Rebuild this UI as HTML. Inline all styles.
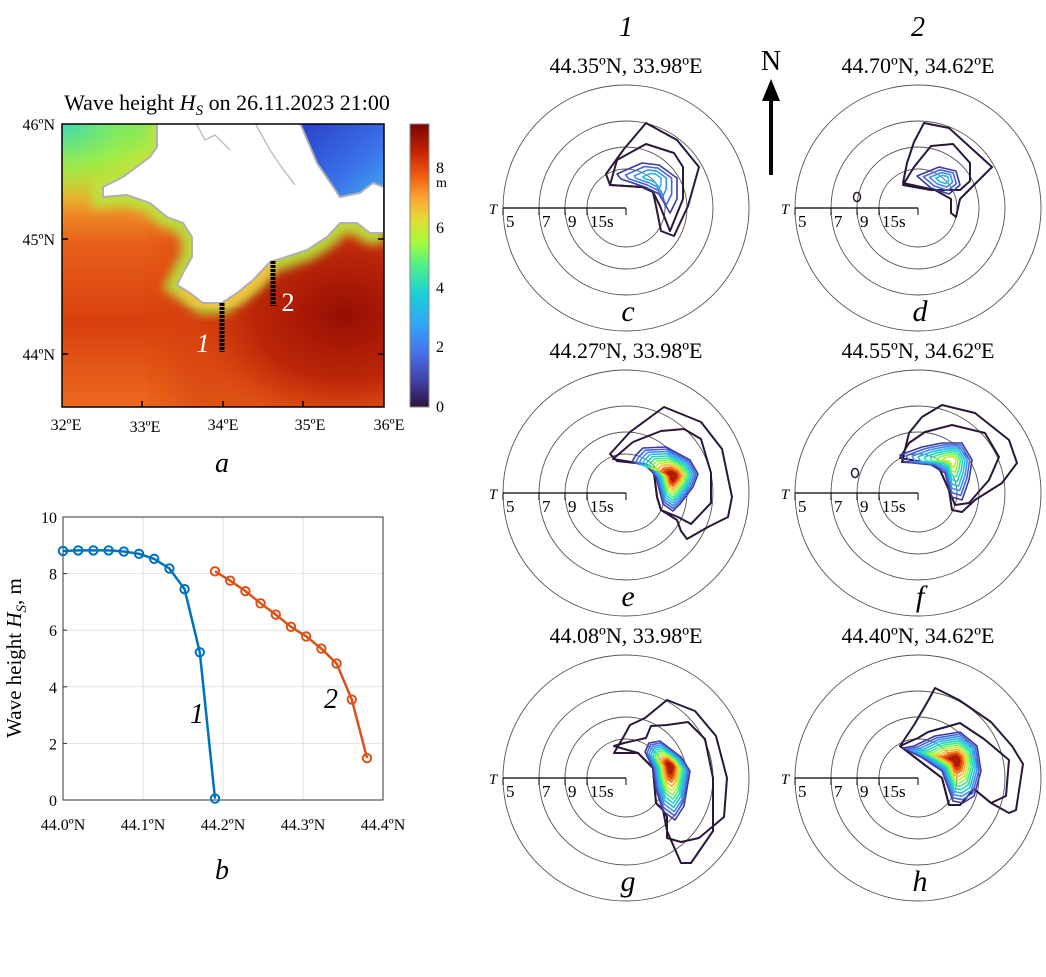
<!DOCTYPE html>
<html><head><meta charset="utf-8"><style>
html,body{margin:0;padding:0;background:#fff;}
svg{display:block;font-family:"Liberation Serif",serif;}
</style></head><body>
<svg id="fig" width="1046" height="977" viewBox="0 0 1046 977" xmlns="http://www.w3.org/2000/svg">
<defs>
  <linearGradient id="seaBase" x1="0" y1="0" x2="0" y2="1">
    <stop offset="0" stop-color="#5fe080"/>
    <stop offset="0.12" stop-color="#b8ea38"/>
    <stop offset="0.25" stop-color="#f2a52c"/>
    <stop offset="0.42" stop-color="#e8601a"/>
    <stop offset="0.7" stop-color="#d8400e"/>
    <stop offset="1" stop-color="#ec6a1e"/>
  </linearGradient>
  <radialGradient id="darkRed" cx="0.5" cy="0.5" r="0.5">
    <stop offset="0" stop-color="#960e03"/>
    <stop offset="0.6" stop-color="#b41e06" stop-opacity="0.8"/>
    <stop offset="1" stop-color="#c8300a" stop-opacity="0"/>
  </radialGradient>
  <radialGradient id="greenTL" cx="0.5" cy="0.5" r="0.5">
    <stop offset="0" stop-color="#40d8b0"/>
    <stop offset="0.5" stop-color="#90ee50" stop-opacity="0.7"/>
    <stop offset="1" stop-color="#c8e630" stop-opacity="0"/>
  </radialGradient>
  <linearGradient id="azov" x1="0" y1="0" x2="1" y2="1">
    <stop offset="0" stop-color="#2a40c8"/>
    <stop offset="0.6" stop-color="#3a70e8"/>
    <stop offset="1" stop-color="#40a8f0"/>
  </linearGradient>
  <linearGradient id="cbar" x1="0" y1="1" x2="0" y2="0">
    <stop offset="0" stop-color="#30123b"/>
    <stop offset="0.1" stop-color="#4145ab"/>
    <stop offset="0.2" stop-color="#4675ed"/>
    <stop offset="0.3" stop-color="#2fa8f5"/>
    <stop offset="0.4" stop-color="#1bd0d5"/>
    <stop offset="0.5" stop-color="#4df08a"/>
    <stop offset="0.58" stop-color="#a4fc3c"/>
    <stop offset="0.66" stop-color="#e2dc38"/>
    <stop offset="0.74" stop-color="#fea331"/>
    <stop offset="0.82" stop-color="#ef5911"/>
    <stop offset="0.9" stop-color="#c42503"/>
    <stop offset="1" stop-color="#7a0403"/>
  </linearGradient>
  <filter id="blur6"><feGaussianBlur stdDeviation="5"/></filter>
  <filter id="blur20"><feGaussianBlur stdDeviation="20"/></filter>
  <clipPath id="mapClip"><rect x="62" y="124" width="322" height="283"/></clipPath>
</defs>

<!-- ===== Map (a) ===== -->
<g>
  <text x="227" y="110" font-size="22" text-anchor="middle">Wave height <tspan font-style="italic">H</tspan><tspan font-style="italic" font-size="15" dy="5">S</tspan><tspan dy="-5"> on 26.11.2023 21:00</tspan></text>
  <g clip-path="url(#mapClip)">
    <rect x="62" y="124" width="322" height="283" fill="url(#seaBase)"/>
    <rect x="170" y="230" width="240" height="200" fill="#d4400e" opacity="0.6" filter="url(#blur20)"/>
    <ellipse cx="345" cy="315" rx="150" ry="110" fill="url(#darkRed)"/>
    <ellipse cx="62" cy="124" rx="130" ry="90" fill="url(#greenTL)"/>
    <path d="M157,123 L157,147 150,157 123,177 103,187 103,197 127,195 150,203 167,217 183,223 192,237 192,257 183,273 177,285 190,293 203,303 222,303 237,293 253,280 270,262 283,258 307,250 327,237 340,223 357,223 370,233 384,233" fill="none" stroke="#b8e640" stroke-width="22" filter="url(#blur6)" opacity="0.9"/>
    <path d="M183,285 L203,303 222,303 237,293 253,280 270,262" fill="none" stroke="#f8c040" stroke-width="16" filter="url(#blur6)"/>
    <path d="M300,123 L317,163 340,197 360,193 373,183 384,187 L384,123 Z" fill="url(#azov)"/>
    <path d="M157,123 L157,147 150,157 123,177 103,187 103,197 127,195 150,203 167,217 183,223 192,237 192,257 183,273 177,285 190,293 203,303 222,303 237,293 253,280 270,262 283,258 307,250 327,237 340,223 357,223 370,233 384,233 L384,187 373,183 360,193 340,197 317,163 300,123 Z" fill="#fff" stroke="#b0b0b0" stroke-width="2"/>
    <path d="M196,123 L205,140 215,135 230,150 M255,123 L270,150 280,165 295,185" fill="none" stroke="#c0c0c0" stroke-width="1.5"/>
  </g>
  <rect x="62" y="124" width="322" height="283" fill="none" stroke="#000" stroke-width="1.5"/>
  <g stroke="#000" stroke-width="1.5">
    <line x1="62" y1="239" x2="68" y2="239"/><line x1="62" y1="354" x2="68" y2="354"/>
    <line x1="384" y1="239" x2="378" y2="239"/><line x1="384" y1="354" x2="378" y2="354"/>
    <line x1="142" y1="407" x2="142" y2="401"/><line x1="223" y1="407" x2="223" y2="401"/><line x1="303" y1="407" x2="303" y2="401"/>
  </g>
  <g font-size="16" text-anchor="end">
    <text x="55" y="130">46ºN</text><text x="55" y="245">45ºN</text><text x="55" y="360">44ºN</text>
  </g>
  <g font-size="16" text-anchor="middle">
    <text x="66" y="430">32ºE</text><text x="145" y="432">33ºE</text><text x="223" y="430">34ºE</text><text x="310" y="430">35ºE</text><text x="389" y="430">36ºE</text>
  </g>
  <g>
    <line x1="222" y1="303" x2="222" y2="352" stroke="#000" stroke-width="5" stroke-dasharray="3,1"/>
    <text x="203" y="352" font-size="26" font-style="italic" fill="#fff" text-anchor="middle">1</text>
  </g>
  <g>
    <line x1="273" y1="261" x2="273" y2="306" stroke="#000" stroke-width="5" stroke-dasharray="3,1"/>
    <text x="288" y="311" font-size="26" fill="#fff" text-anchor="middle">2</text>
  </g>
  <g>
    <rect x="410" y="124" width="19" height="283" fill="url(#cbar)" stroke="#888" stroke-width="1"/>
    <g font-size="16">
      <text x="436" y="412">0</text><text x="436" y="352">2</text><text x="436" y="293">4</text><text x="436" y="233">6</text><text x="436" y="173">8</text>
      <text x="436" y="187" font-size="14">m</text>
    </g>
  </g>
  <text x="222" y="472" font-size="28" font-style="italic" text-anchor="middle">a</text>
</g>

<!-- ===== Line chart (b) ===== -->
<g id="lineChart"></g>
<text x="222" y="879" font-size="28" font-style="italic" text-anchor="middle">b</text>

<!-- ===== Polar spectra ===== -->
<g id="polars"></g>

<g>
  <line x1="771" y1="175" x2="771" y2="98" stroke="#000" stroke-width="4"/>
  <polygon points="771,79 762,101 780,101" fill="#000"/>
  <text x="771" y="70" font-size="28" text-anchor="middle">N</text>
</g>
</svg>

<script>
// ---------- Line chart data ----------
const lat1 = [44.0, 44.019, 44.038, 44.057, 44.076, 44.095, 44.114, 44.133, 44.152, 44.171, 44.19];
const hs1  = [8.8, 8.82, 8.82, 8.82, 8.78, 8.7, 8.52, 8.18, 7.45, 5.22, 0.05];
const lat2 = [44.19, 44.209, 44.228, 44.247, 44.266, 44.285, 44.304, 44.323, 44.342, 44.361, 44.38];
const hs2  = [8.08, 7.75, 7.38, 6.95, 6.55, 6.12, 5.78, 5.35, 4.82, 3.55, 1.48];
const xTicks = [44.0, 44.1, 44.2, 44.3, 44.4];
const xTickLabels = ["44.0ºN", "44.1ºN", "44.2ºN", "44.3ºN", "44.4ºN"];
const yTicks = [0, 2, 4, 6, 8, 10];

const NS = "http://www.w3.org/2000/svg";
function mk(tag, attrs, parent) {
  const e = document.createElementNS(NS, tag);
  for (const k in attrs) e.setAttribute(k, attrs[k]);
  if (parent) parent.appendChild(e);
  return e;
}
const X0 = 63, X1 = 383, Y0 = 800, Y1 = 517;
const xScale = v => X0 + (v - 44.0) / 0.4 * (X1 - X0);
const yScale = v => Y0 - v / 10 * (Y0 - Y1);

const lc = document.getElementById('lineChart');
mk('rect', {x: X0, y: Y1, width: X1 - X0, height: Y0 - Y1, fill: '#fff'}, lc);
xTicks.forEach((t, i) => {
  const gl = mk('line', {x1: xScale(t), x2: xScale(t), y1: Y1, y2: Y0, stroke: '#e2e2e2', 'stroke-width': 1}, lc);
  
  
  const tx = mk('text', {x: xScale(t), y: 830, 'font-size': 16, 'text-anchor': 'middle'}, lc);
  tx.textContent = xTickLabels[i];
  
  
});
yTicks.forEach(t => {
  const gl = mk('line', {x1: X0, x2: X1, y1: yScale(t), y2: yScale(t), stroke: '#e2e2e2', 'stroke-width': 1}, lc);
  
  
  const tk = mk('line', {x1: X0, x2: X0 + 4, y1: yScale(t), y2: yScale(t), stroke: '#333'}, lc);
  
  
  const tx = mk('text', {x: 57, y: yScale(t) + 6, 'font-size': 16, 'text-anchor': 'end'}, lc);
  tx.textContent = String(t);
  
  
});
const frame = mk('rect', {x: X0, y: Y1, width: X1 - X0, height: Y0 - Y1, fill: 'none', stroke: '#333', 'stroke-width': 1}, lc);



function series(lats, vals, color, name) {
  const g = mk('g', {}, lc);
  
  
  const pts = lats.map((v, i) => xScale(v) + ',' + yScale(vals[i])).join(' ');
  const pl = mk('polyline', {points: pts, fill: 'none', stroke: color, 'stroke-width': 2.5}, g);
  
  
  lats.forEach((v, i) => {
    const c = mk('circle', {cx: xScale(v), cy: yScale(vals[i]), r: 4.2, fill: 'none', stroke: color, 'stroke-width': 2}, g);
    
    
  });
}
series(lat1, hs1, '#0072bd', 'series-1');
series(lat2, hs2, '#d95319', 'series-2');

const l1 = mk('text', {x: 197, y: 723, 'font-size': 28, 'font-style': 'italic', 'text-anchor': 'middle'}, lc);
l1.textContent = '1';


const l2 = mk('text', {x: 331, y: 708, 'font-size': 28, 'font-style': 'italic', 'text-anchor': 'middle'}, lc);
l2.textContent = '2';


const yt = mk('text', {x: 0, y: 0, 'font-size': 21, 'text-anchor': 'middle', transform: 'translate(21,658) rotate(-90)'}, lc);
yt.innerHTML = 'Wave height <tspan font-style="italic">H</tspan><tspan font-style="italic" font-size="15" dy="5">S</tspan><tspan dy="-5">, m</tspan>';



// ---------- Polar spectra ----------
const turbo = ['#3a3a9e','#4664dc','#3d8ff2','#25b8e6','#1cd8be','#3fee88','#8cf84c','#cfe836','#f8b52e','#fb7a1e','#de420c','#ae1c03','#7a0403'];
const panels = [
  {id:'c', cx:626, cy:208, sh:14, col:'1', title:'44.35ºN, 33.98ºE', n:4, blob:null,
   outer:[[20,-99],[51,-82],[73,-55],[62,-16],[48,14],[35,9],[30,-16],[27,-30],[16,-35],[-16,-37],[-20,-48],[-2,-73]],
   inner:[[20,-78],[48,-69],[57,-55],[57,-23],[44,9],[34,-16],[27,-30],[16,-35],[-16,-37],[-9,-62]],
   col1:[[-9,-48],[16,-59],[33,-57],[51,-44],[51,-23],[44,-9],[33,-28],[19,-35],[-5,-43]], peak:[28,-44], fillPeak:false},
  {id:'d', cx:918, cy:208, sh:14, col:'2', title:'44.70ºN, 34.62ºE', n:4, blob:[-61,-25],
   outer:[[6,-99],[31,-94],[74,-55],[67,-48],[42,-23],[38,-5],[33,-9],[33,-23],[17,-32],[-15,-39],[-11,-59],[-4,-80]],
   inner:[[13,-76],[35,-78],[52,-59],[52,-41],[42,-32],[13,-32],[-15,-37],[-4,-55]],
   col1:[[-1,-46],[21,-55],[38,-51],[42,-37],[31,-28],[13,-34]], peak:[26,-43], fillPeak:false},
  {id:'e', cx:626, cy:493, sh:2, title:'44.27ºN, 33.98ºE', n:12, blob:null,
   outer:[[38,-88],[75,-73],[96,-46],[106,2],[102,22],[82,32],[61,44],[55,36],[51,25],[35,15],[31,2],[28,-22],[18,-31],[-9,-34],[-16,-41],[4,-63]],
   inner:[[35,-64],[58,-66],[75,-56],[85,-22],[85,8],[65,29],[52,22],[35,15],[31,2],[28,-22],[18,-31],[-13,-36],[7,-53]],
   col1:[[10,-40],[17,-47],[40,-48],[64,-35],[72,-21],[67,-8],[54,9],[47,16],[37,9],[30,-18],[20,-31],[6,-33]], peak:[47,-19], fillPeak:true},
  {id:'f', cx:918, cy:493, sh:2, title:'44.55ºN, 34.62ºE', n:8, blob:[-63,-22],
   outer:[[24,-90],[57,-82],[91,-55],[99,-32],[84,-12],[57,5],[44,17],[34,15],[31,-5],[22,-25],[11,-32],[-16,-33],[-9,-62],[4,-78]],
   inner:[[7,-63],[34,-70],[67,-62],[81,-38],[71,-15],[51,8],[37,10],[31,-5],[22,-25],[11,-32],[-18,-37],[-9,-52]],
   col1:[[-18,-40],[4,-48],[24,-52],[44,-52],[54,-35],[51,-15],[44,5],[34,2],[27,-22],[14,-30],[-14,-33]], peak:[34,-35], fillPeak:false},
  {id:'g', cx:626, cy:778, sh:10, title:'44.08ºN, 33.98ºE', n:12, blob:null,
   outer:[[41,-88],[69,-77],[90,-52],[101,-10],[98,29],[73,50],[55,54],[41,50],[41,29],[37,22],[30,15],[27,-20],[12,-35],[-12,-35],[-2,-52],[4,-63],[19,-70]],
   inner:[[41,-63],[62,-66],[79,-49],[87,-10],[87,43],[65,75],[55,75],[41,43],[37,22],[30,15],[27,-20],[12,-35],[-12,-42],[-2,-45],[20,-50],[25,-62]],
   col1:[[23,-45],[34,-47],[55,-31],[64,-17],[58,18],[49,32],[37,23],[30,1],[27,-20],[19,-36]], peak:[44,-22], fillPeak:true},
  {id:'h', cx:918, cy:778, sh:10, title:'44.40ºN, 34.62ºE', n:12, blob:null,
   outer:[[17,-100],[41,-88],[73,-66],[94,-42],[105,-24],[98,22],[91,25],[73,15],[56,1],[42,17],[31,17],[24,-10],[-18,-42],[-4,-63],[10,-87]],
   inner:[[10,-56],[42,-65],[66,-49],[91,-28],[88,8],[73,15],[56,1],[42,17],[31,17],[24,-10],[-18,-42],[0,-50]],
   col1:[[-4,-42],[17,-52],[42,-56],[59,-42],[63,-17],[56,8],[45,15],[35,13],[24,-17],[3,-31],[-15,-40]], peak:[38,-28], fillPeak:true}
];
const radii = [123, 87, 61, 39];
const periodLabels = ['5', '7', '9', '15s'];
const pg = document.getElementById('polars');

panels.forEach(p => {
  const g = mk('g', {}, pg);
  
  
  const cx = p.cx, cy = p.cy;
  radii.forEach(r => {
    const c = mk('circle', {cx: cx, cy: cy, r: r, fill: 'none', stroke: '#555', 'stroke-width': 0.9}, g);
    
    
  });
  const ax = mk('line', {x1: cx - 123, y1: cy, x2: cx, y2: cy, stroke: '#000', 'stroke-width': 1.2}, g);
  
  
  [123, 87, 61, 39, 0].forEach(r => mk('line', {x1: cx - r, y1: cy, x2: cx - r, y2: cy + 7, stroke: '#000', 'stroke-width': 1}, g));
  radii.forEach((r, i) => {
    const t = mk('text', {x: cx - r + 3, y: cy + 19, 'font-size': 17}, g);
    t.textContent = periodLabels[i];
    
    
  });
  const T = mk('text', {x: cx - 133, y: cy + 6, 'font-size': 15, 'font-style': 'italic', 'text-anchor': 'middle'}, g);
  T.textContent = 'T';
  
  

  const oy = cy + p.sh;
  const poly = pts => pts.map(q => (cx + q[0]) + ',' + (oy + q[1])).join(' ');
  const o = mk('polygon', {points: poly(p.outer), fill: 'none', stroke: '#2b1838', 'stroke-width': 2, 'stroke-linejoin': 'round'}, g);
  
  
  const inn = mk('polygon', {points: poly(p.inner), fill: 'none', stroke: '#2b1838', 'stroke-width': 2, 'stroke-linejoin': 'round'}, g);
  
  
  for (let k = 0; k < p.n; k++) {
    const t = 1 - k / p.n * 0.93;
    const pts = p.col1.map(q => [p.peak[0] + (q[0] - p.peak[0]) * t, p.peak[1] + (q[1] - p.peak[1]) * t]);
    const col = turbo[Math.min(k, turbo.length - 1)];
    const cl = mk('polygon', {points: poly(pts), fill: (p.fillPeak && k >= p.n - 3) ? col : 'none', stroke: col, 'stroke-width': 1.6, 'stroke-linejoin': 'round'}, g);
    
    
  }
  if (p.blob) {
    const b = mk('ellipse', {cx: cx + p.blob[0], cy: oy + p.blob[1], rx: 3.5, ry: 4.5, fill: 'none', stroke: '#2b1838', 'stroke-width': 1.5}, g);
    
    
  }
  const tt = mk('text', {x: cx, y: cy - 135, 'font-size': 22, 'text-anchor': 'middle'}, g);
  tt.textContent = p.title;
  
  
  if (p.col) {
    const ct = mk('text', {x: cx, y: cy - 172, 'font-size': 28, 'font-style': 'italic', 'text-anchor': 'middle'}, g);
    ct.textContent = p.col;
    
    
  }
  const lt = mk('text', {x: cx + 2, y: cy + 113, 'font-size': 30, 'font-style': 'italic', 'text-anchor': 'middle'}, g);
  lt.textContent = p.id;
  
  
});
</script>
</body></html>
